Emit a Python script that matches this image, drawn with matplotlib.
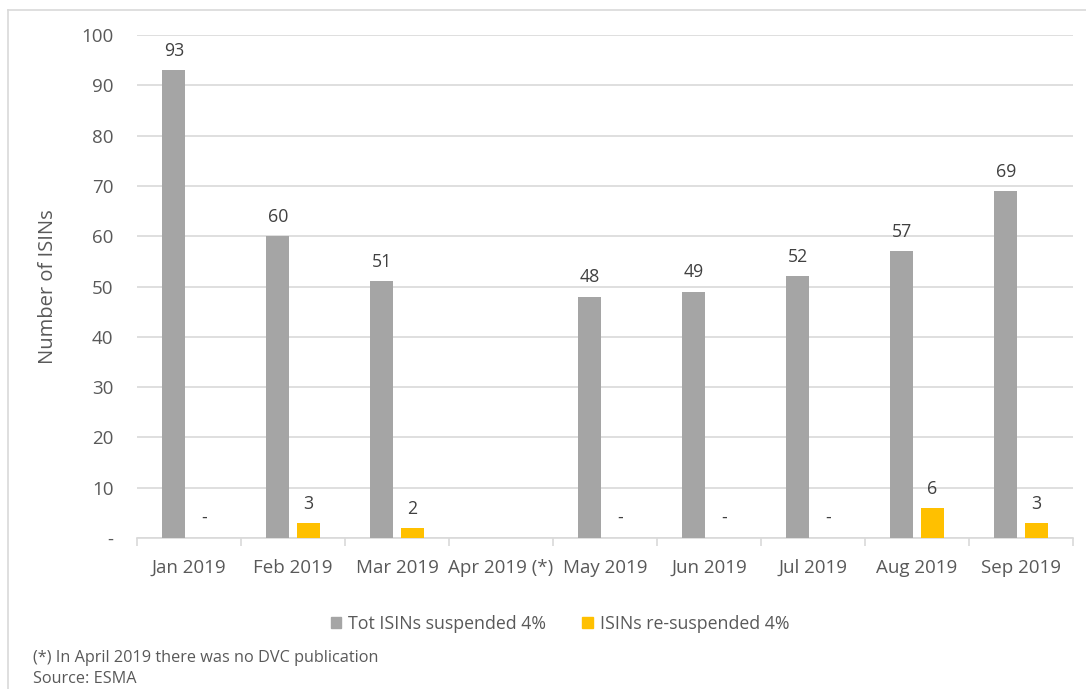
import numpy as np
import matplotlib.pyplot as plt
from matplotlib.lines import Line2D
from matplotlib.patches import Patch

plt.rcParams['font.family'] = ['Open Sans', 'DejaVu Sans']

months = ["Jan 2019", "Feb 2019", "Mar 2019", "Apr 2019 (*)", "May 2019",
          "Jun 2019", "Jul 2019", "Aug 2019", "Sep 2019"]
tot_suspended = [93, 60, 51, None, 48, 49, 52, 57, 69]
re_suspended = [0, 3, 2, None, 0, 0, 0, 6, 3]
series_names = ["Tot ISINs suspended 4%", "ISINs re-suspended 4%"]
y_ticks = [0, 10, 20, 30, 40, 50, 60, 70, 80, 90, 100]

GREY = "#A5A5A5"
GOLD = "#FFC000"
TEXT = "#595959"
LABEL = "#404040"
GRID = "#D9D9D9"

fig = plt.figure(figsize=(10.86, 6.89), dpi=100)
ax = fig.add_axes([137 / 1086, 1 - 538 / 689, (1073 - 137) / 1086, (538 - 35) / 689])

x = np.arange(len(months))
w = 0.22
off = 0.145

for i in range(len(months)):
    t = tot_suspended[i]
    r = re_suspended[i]
    if t is not None:
        ax.bar(x[i] - off, t, width=w, color=GREY, zorder=3)
        ax.text(x[i] - off, t + 2.0, f"{t}", ha="center", va="bottom",
                fontsize=12.8, color=LABEL)
    if r is not None:
        if r > 0:
            ax.bar(x[i] + off, r, width=w, color=GOLD, zorder=3)
            ax.text(x[i] + off, r + 2.0, f"{r}", ha="center", va="bottom",
                    fontsize=12.8, color=LABEL)
        else:
            ax.text(x[i] + off, 4.0, "-", ha="center", va="center",
                    fontsize=12.8, color=LABEL)

ax.set_xlim(-0.5, len(months) - 0.5)
ax.set_ylim(0, 100)
ax.set_yticks(y_ticks)
ax.set_yticklabels(["-"] + [str(v) for v in y_ticks[1:]])
ax.set_xticks(x)
ax.set_xticklabels(months)
ax.set_xticks(np.arange(-0.5, len(months), 1), minor=True)

ax.grid(axis="y", color=GRID, linewidth=1.2, zorder=0)
for s in ["top", "right", "left"]:
    ax.spines[s].set_visible(False)
ax.spines["bottom"].set_color(GRID)
ax.spines["bottom"].set_linewidth(1.2)

ax.tick_params(axis="y", length=0, pad=17, labelsize=13.5, labelcolor=TEXT)
ax.tick_params(axis="x", which="major", length=0, pad=15, labelsize=13.5, labelcolor=TEXT)
ax.tick_params(axis="x", which="minor", length=6, color=GRID, width=1.2)

ax.set_ylabel("Number of ISINs", fontsize=14.5, color=TEXT)
ax.yaxis.set_label_coords(-79 / 936, 0.5)

handles = [Patch(color=GREY), Patch(color=GOLD)]
fig.legend(handles, series_names, loc="center", bbox_to_anchor=(560 / 1086, 1 - 624 / 689),
           ncol=2, frameon=False, fontsize=12.8, labelcolor=TEXT,
           handlelength=0.6, handleheight=0.6, handletextpad=0.4, columnspacing=2.0)

fig.text(33 / 1086, 1 - 658 / 689, "(*) In April 2019 there was no DVC publication",
         fontsize=11.7, color=TEXT, va="center")
fig.text(33 / 1086, 1 - 679 / 689, "Source: ESMA", fontsize=11.7, color=TEXT, va="center")

# light frame on the top and left edges
fig.add_artist(Line2D([8 / 1086, 1], [1 - 10 / 689, 1 - 10 / 689], color=GRID, linewidth=1.2))
fig.add_artist(Line2D([8 / 1086, 8 / 1086], [0, 1 - 10 / 689], color=GRID, linewidth=1.2))

fig.savefig("out.png", dpi=100, facecolor="white")
